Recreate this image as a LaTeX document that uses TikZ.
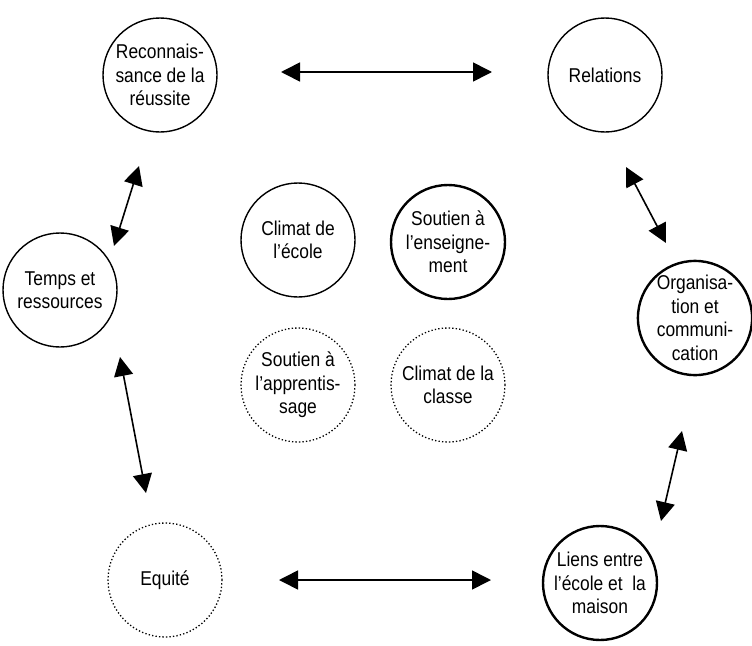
\documentclass[tikz,border=0pt]{standalone}
\usepackage{fontspec}
\setmainfont{Liberation Sans}[FakeStretch=0.87]
\usepackage{tikz}
\usetikzlibrary{arrows.meta}
\newcommand{\radiusfactor}{114}
\tikzset{
    factor/.style={draw, circle, minimum size=\radiusfactor, inner sep=0pt, align=center,
        line width=1.4, font=\fontsize{20}{23.5}\selectfont},
    strong/.style={factor, line width=2.4},
    weak/.style={factor, line width=1.3, dash pattern=on 1.3pt off 2.2pt},
    link/.style={{Triangle[length=19,width=19]}-{Triangle[length=19,width=19]}, line width=1.6}
}
\begin{document}
\begin{tikzpicture}[x=1pt, y=-1pt]
        \useasboundingbox (0,0) rectangle (752,645);

        % outer ring
        \node[factor] (reconnaissance) at (160,75) {Reconnais-\\sance de la\\réussite};
        \node[factor] (relations) at (605,75) {Relations};
        \node[factor] (temps) at (60,290) {Temps et\\ressources};
        \node[strong, minimum size=110] (organisation) at (695,318) {Organisa-\\tion et\\communi-\\cation};
        \node[weak] (equite) at (165,580) {Equité};
        \node[strong] (liens) at (600,583) {Liens entre\\l'école et~ la\\maison};

        % inner square
        \node[factor] (climatecole) at (298,240) {Climat de\\l'école};
        \node[strong] (enseignement) at (448,242) {Soutien à\\l'enseigne-\\ment};
        \node[weak] (apprentissage) at (298,385) {Soutien à\\l'apprentis-\\sage};
        \node[weak] (climatclasse) at (448,385) {Climat de la\\classe};

        % free arrow ends
        \coordinate (top-a) at (281,72);
        \coordinate (top-b) at (492,72);
        \coordinate (bottom-a) at (279,580);
        \coordinate (bottom-b) at (491,580);
        \coordinate (left-a) at (139,166);
        \coordinate (left-b) at (114,246);
        \coordinate (left-c) at (120,357);
        \coordinate (left-d) at (146,493);
        \coordinate (right-a) at (626,167);
        \coordinate (right-b) at (666,243);
        \coordinate (right-c) at (682,431);
        \coordinate (right-d) at (661,521);

        \draw[link] (top-a) -- (top-b);
        \draw[link] (bottom-a) -- (bottom-b);
        \draw[link] (left-a) -- (left-b);
        \draw[link] (left-c) -- (left-d);
        \draw[link] (right-a) -- (right-b);
        \draw[link] (right-c) -- (right-d);
    \end{tikzpicture}
\end{document}
